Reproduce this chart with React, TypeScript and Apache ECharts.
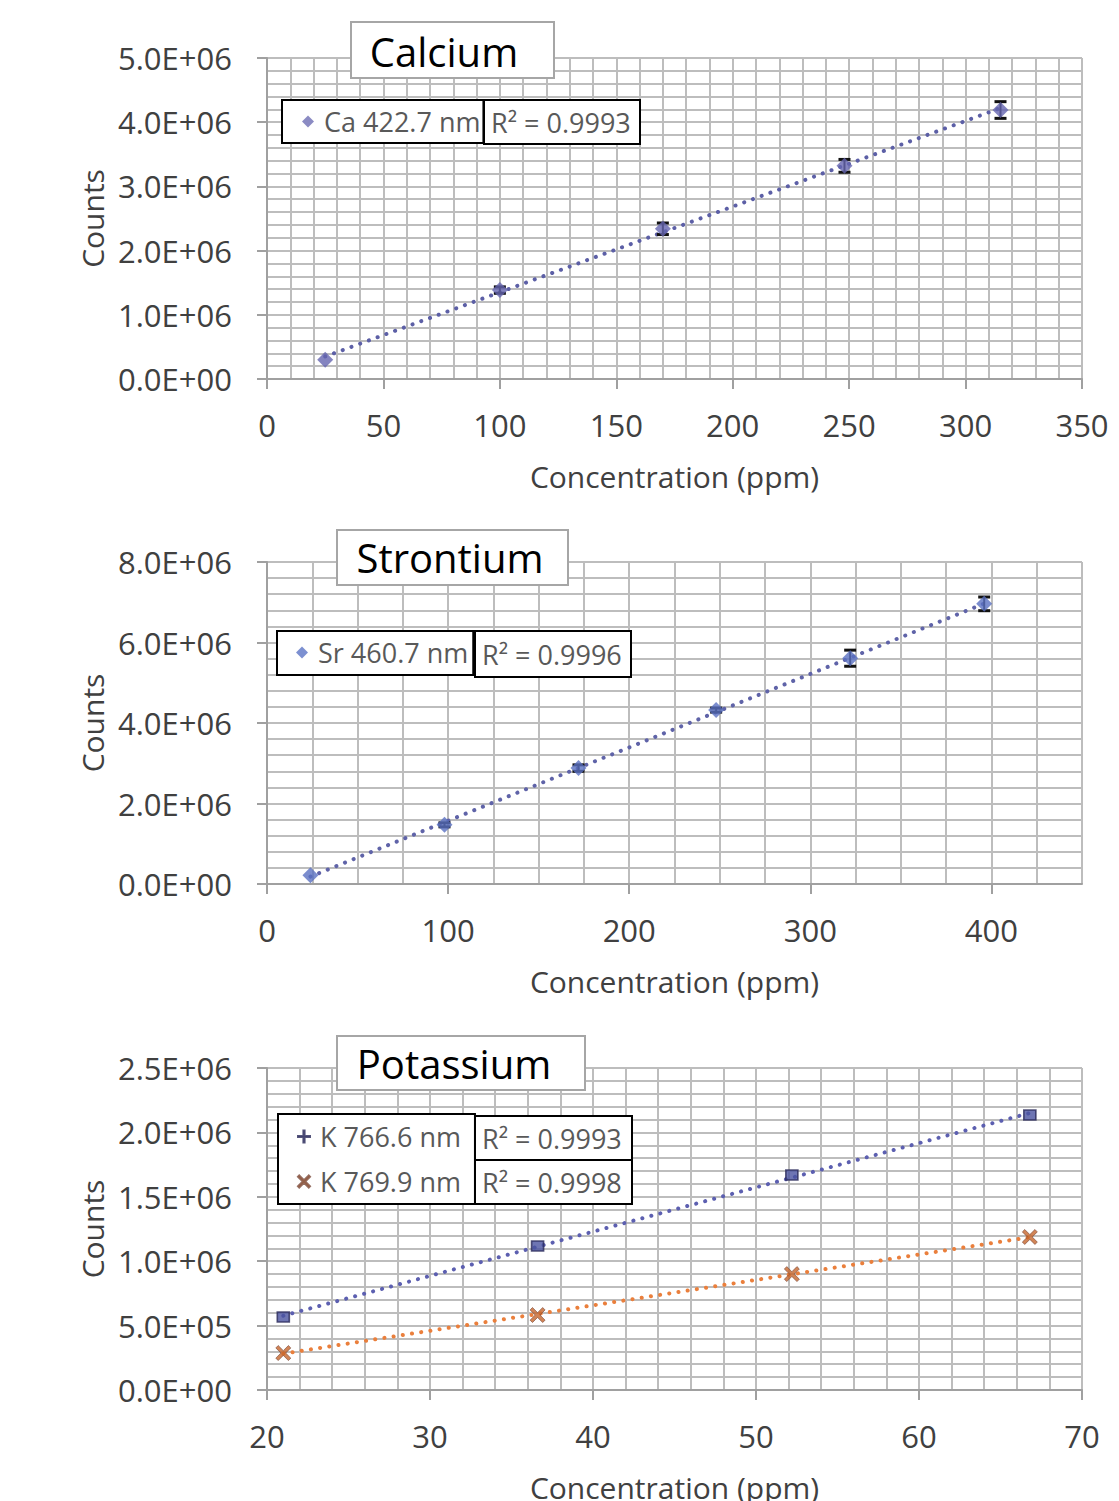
import React, { useEffect, useRef } from "react";
import * as echarts from "echarts";

// ---------- data ----------
const caConc = [25, 100, 170, 248, 315];
const caCounts = [0.3e6, 1.385e6, 2.34e6, 3.32e6, 4.19e6];
const caErr = [0, 0.05e6, 0.09e6, 0.1e6, 0.13e6];

const srConc = [24, 98, 172, 248, 322, 396];
const srCounts = [0.22e6, 1.47e6, 2.88e6, 4.32e6, 5.61e6, 6.96e6];
const srErr = [0, 0.05e6, 0.08e6, 0.05e6, 0.2e6, 0.17e6];

const kConc = [21, 36.6, 52.2, 66.8];
const k766Counts = [0.567e6, 1.118e6, 1.669e6, 2.135e6];
const k769Counts = [0.287e6, 0.582e6, 0.9e6, 1.188e6];

const titles = ["Calcium", "Strontium", "Potassium"];
const seriesNames = ["Ca 422.7 nm", "Sr 460.7 nm", "K 766.6 nm", "K 769.9 nm"];
const r2Labels = ["R² = 0.9993", "R² = 0.9996", "R² = 0.9993", "R² = 0.9998"];
const xAxisName = "Concentration (ppm)";
const yAxisName = "Counts";

// axis ranges: [min, max, labelStep, gridStep]
const xRanges = [
  [0, 350, 50, 10],
  [0, 450, 100, 25],
  [20, 70, 10, 2],
];
const yRanges = [
  [0, 5e6, 1e6, 2e5],
  [0, 8e6, 2e6, 4e5],
  [0, 2.5e6, 5e5, 1e5],
];

// ---------- helpers ----------
const FONT = '"Open Sans", "Noto Sans", sans-serif';

function sci(v: number): string {
  if (v === 0) return "0.0E+00";
  const e = Math.floor(Math.log10(v) + 1e-9);
  const m = v / Math.pow(10, e);
  return m.toFixed(1) + "E+" + (e < 10 ? "0" + e : String(e));
}

function fit(xs: number[], ys: number[]): number[][] {
  const n = xs.length;
  let sx = 0, sy = 0, sxx = 0, sxy = 0;
  for (let i = 0; i < n; i++) {
    sx += xs[i]; sy += ys[i]; sxx += xs[i] * xs[i]; sxy += xs[i] * ys[i];
  }
  const b = (n * sxy - sx * sy) / (n * sxx - sx * sx);
  const a = (sy - b * sx) / n;
  const x0 = Math.min(...xs), x1 = Math.max(...xs);
  return [[x0, a + b * x0], [x1, a + b * x1]];
}

const zip = (a: number[], b: number[]) => a.map((v, i) => [v, b[i]]);
const zip3 = (a: number[], b: number[], c: number[]) => a.map((v, i) => [v, b[i], c[i]]);

const xShape = "path://M0,1.6 L1.6,0 L5,3.4 L8.4,0 L10,1.6 L6.6,5 L10,8.4 L8.4,10 L5,6.6 L1.6,10 L0,8.4 L3.4,5 Z";
const xThin = "path://M0,1 L1,0 L5,4 L9,0 L10,1 L6,5 L10,9 L9,10 L5,6 L1,10 L0,9 L4,5 Z";
const plusShape = "path://M4.5,0 H5.5 V4.5 H10 V5.5 H5.5 V10 H4.5 V5.5 H0 V4.5 H4.5 Z";

const errRender = (params: any, api: any) => {
  const x = api.value(0), y = api.value(1), e = api.value(2);
  if (!e) return null;
  const t = api.coord([x, y + e]);
  const b = api.coord([x, y - e]);
  const st = { stroke: "#111", lineWidth: 2 };
  const cap = { stroke: "#111", lineWidth: 3 };
  return {
    type: "group",
    children: [
      { type: "line", shape: { x1: t[0], y1: t[1], x2: b[0], y2: b[1] }, style: st },
      { type: "line", shape: { x1: t[0] - 6, y1: t[1], x2: t[0] + 6, y2: t[1] }, style: cap },
      { type: "line", shape: { x1: b[0] - 6, y1: b[1], x2: b[0] + 6, y2: b[1] }, style: cap },
    ],
  };
};

export default function App() {
  const ref = useRef<HTMLDivElement>(null);

  useEffect(() => {
    if (!ref.current) return;
    const chart = echarts.init(ref.current, undefined, { renderer: "svg" });

    const gridBoxes = [
      { left: 267, top: 58, width: 815, height: 321 },
      { left: 267, top: 562, width: 815, height: 322 },
      { left: 267, top: 1068, width: 815, height: 322 },
    ];
    const axisCol = "#a0a0a0";
    const textCol = "#404040";

    const xAxes: any[] = [];
    const yAxes: any[] = [];
    for (let i = 0; i < 3; i++) {
      const [xmin, xmax, xstep] = xRanges[i];
      const [ymin, ymax, ystep] = yRanges[i];
      const xTicks: number[] = [];
      for (let v = xmin; v <= xmax + 1e-9; v += xstep) xTicks.push(v);
      xAxes.push({
        type: "value", gridIndex: i, min: xmin, max: xmax, interval: xstep, position: "bottom",
        axisLine: { show: true, onZero: false, lineStyle: { color: axisCol, width: 2 } },
        axisTick: { show: true, length: 10, customValues: xTicks, lineStyle: { color: axisCol, width: 2 } },
        axisLabel: {
          fontSize: 31, fontFamily: FONT, color: textCol, margin: 30,
          formatter: (v: number) => (v > xTicks[xTicks.length - 1] + 1e-9 ? "" : String(v)),
        },
        splitLine: { show: false },
        name: xAxisName, nameLocation: "middle", nameGap: 82,
        nameTextStyle: { fontSize: 30, fontFamily: FONT, color: textCol },
        z: 5,
      });
      yAxes.push({
        type: "value", gridIndex: i, min: ymin, max: ymax, interval: ystep, position: "left",
        axisLine: { show: true, onZero: false, lineStyle: { color: axisCol, width: 2 } },
        axisTick: { show: true, length: 10, lineStyle: { color: axisCol, width: 2 } },
        axisLabel: { fontSize: 31, fontFamily: FONT, color: textCol, margin: 35, formatter: sci },
        splitLine: { show: false },
        name: yAxisName, nameLocation: "middle", nameGap: 160,
        nameTextStyle: { fontSize: 30, fontFamily: FONT, color: textCol },
        z: 5,
      });
    }
    const gridLine = { show: true, lineStyle: { color: "#bdbdbd", width: 2 } };
    for (let i = 0; i < 3; i++) {
      const [xmin, xmax, , xg] = xRanges[i];
      const [ymin, ymax, , yg] = yRanges[i];
      xAxes.push({
        type: "value", gridIndex: i, min: xmin, max: xmax, interval: xg, position: "bottom",
        axisLine: { show: false }, axisTick: { show: false }, axisLabel: { show: false },
        splitLine: gridLine, z: 0,
      });
      yAxes.push({
        type: "value", gridIndex: i, min: ymin, max: ymax, interval: yg, position: "left",
        axisLine: { show: false }, axisTick: { show: false }, axisLabel: { show: false },
        splitLine: gridLine, z: 0,
      });
    }

    const trend = (idx: number, name: string, xs: number[], ys: number[], color: string) => ({
      type: "line", name, xAxisIndex: idx, yAxisIndex: idx, data: fit(xs, ys),
      showSymbol: false, symbol: "none", silent: true, z: 3,
      lineStyle: { color, width: 4, type: [0.1, 9.2], cap: "round" },
    });
    const errs = (idx: number, name: string, xs: number[], ys: number[], es: number[]) => ({
      type: "custom", name, xAxisIndex: idx, yAxisIndex: idx, data: zip3(xs, ys, es),
      encode: { x: 0, y: 1 }, renderItem: errRender, silent: true, z: 4,
    });

    const series: any[] = [
      trend(0, "Linear (Ca 422.7 nm)", caConc, caCounts, "#5c5fa6"),
      errs(0, "Ca error", caConc, caCounts, caErr),
      {
        type: "scatter", name: seriesNames[0], xAxisIndex: 0, yAxisIndex: 0, data: zip(caConc, caCounts),
        symbol: "diamond", symbolSize: 16, itemStyle: { color: "#6565b0" }, z: 6,
      },
      trend(1, "Linear (Sr 460.7 nm)", srConc, srCounts, "#5f63a8"),
      errs(1, "Sr error", srConc, srCounts, srErr),
      {
        type: "scatter", name: seriesNames[1], xAxisIndex: 1, yAxisIndex: 1, data: zip(srConc, srCounts),
        symbol: "diamond", symbolSize: 16, itemStyle: { color: "#5a70c2" }, z: 6,
      },
      trend(2, "Linear (K 766.6 nm)", kConc, k766Counts, "#5c5fb0"),
      trend(2, "Linear (K 769.9 nm)", kConc, k769Counts, "#ea7f3c"),
      {
        type: "scatter", name: seriesNames[2], xAxisIndex: 2, yAxisIndex: 2, data: zip(kConc, k766Counts),
        symbol: "rect", symbolSize: [12, 10], itemStyle: { color: "#4a52a0", borderColor: "#2b2b5a", borderWidth: 1.5 }, z: 6,
      },
      {
        type: "scatter", name: seriesNames[3], xAxisIndex: 2, yAxisIndex: 2, data: zip(kConc, k769Counts),
        symbol: xShape, symbolSize: 15, itemStyle: { color: "#c5652c", borderColor: "#7a4a3a", borderWidth: 0.8 }, z: 6,
      },
    ];

    const legendText = { fontSize: 27, fontFamily: FONT, color: "#595959", padding: [0, 0, 0, 5], lineHeight: 31 };
    const legendBase = {
      orient: "vertical", itemWidth: 12, itemHeight: 12, borderColor: "#000", borderWidth: 2,
      backgroundColor: "#fff", textStyle: legendText, selectedMode: false, z: 20,
    };
    const legends = [
      { ...legendBase, left: 282, top: 100, padding: [6, 3, 6, 20],
        data: [{ name: seriesNames[0], icon: "diamond", itemStyle: { color: "#6e6eb4" } }] },
      { ...legendBase, left: 277, top: 631, padding: [6, 5, 7, 19],
        data: [{ name: seriesNames[1], icon: "diamond", itemStyle: { color: "#5b74c6" } }] },
      { ...legendBase, left: 278, top: 1114, padding: [7, 14, 7, 19], itemGap: 14,
        data: [
          { name: seriesNames[2], icon: plusShape, itemStyle: { color: "#8080b0" } },
          { name: seriesNames[3], icon: xThin, itemStyle: { color: "#f0a060" } },
        ] },
    ];

    const titleBoxes = [
      { x: 351, y: 22, w: 203, h: 56, cx: 444, cy: 51 },
      { x: 337, y: 530, w: 231, h: 55, cx: 450, cy: 557 },
      { x: 337, y: 1036, w: 248, h: 54, cx: 454, cy: 1063 },
    ];
    const r2Boxes = [
      { x: 484, y: 100, w: 156, h: 44 },
      { x: 475, y: 631, w: 156, h: 46 },
      { x: 475, y: 1116, w: 157, h: 44 },
      { x: 475, y: 1160, w: 157, h: 44 },
    ];
    const graphics: any[] = [];
    titleBoxes.forEach((b, i) => {
      graphics.push({
        type: "rect", z: 30, shape: { x: b.x, y: b.y, width: b.w, height: b.h },
        style: { fill: "#fff", stroke: "#a6a6a6", lineWidth: 2 },
      });
      graphics.push({
        type: "text", z: 31, x: b.cx, y: b.cy,
        style: { text: titles[i], fontSize: 40, fontFamily: FONT, fill: "#000", textAlign: "center", textVerticalAlign: "middle" },
      });
    });
    r2Boxes.forEach((b, i) => {
      graphics.push({
        type: "rect", z: 30, shape: { x: b.x, y: b.y, width: b.w, height: b.h },
        style: { fill: "#fff", stroke: "#000", lineWidth: 2 },
      });
      graphics.push({
        type: "text", z: 31, x: b.x + 7, y: b.y + b.h / 2,
        style: { text: r2Labels[i], fontSize: 27, fontFamily: FONT, fill: "#595959", textAlign: "left", textVerticalAlign: "middle" },
      });
    });

    chart.setOption({
      animation: false,
      backgroundColor: "#fff",
      grid: gridBoxes.map((g) => ({ ...g, outerBoundsMode: "none", containLabel: false })),
      xAxis: xAxes,
      yAxis: yAxes,
      legend: legends,
      series,
      graphic: graphics,
    });

    return () => chart.dispose();
  }, []);

  return (
    <div
      ref={ref}
      style={{ position: "absolute", left: 0, top: 0, width: 1119, height: 1501, background: "#fff" }}
    />
  );
}
